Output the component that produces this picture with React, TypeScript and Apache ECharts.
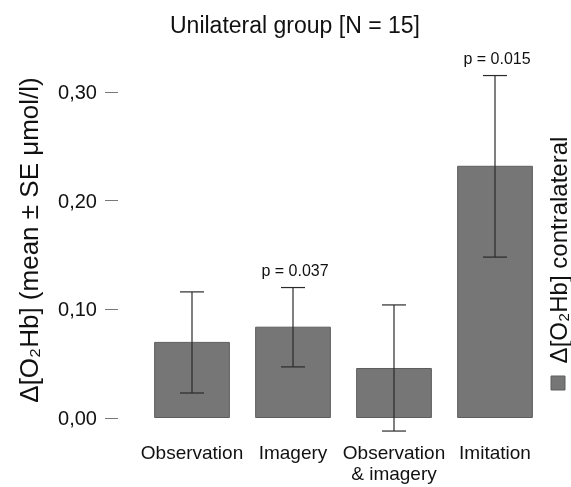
import React, { useEffect, useRef } from "react";
import * as echarts from "echarts";

const categories = ["Observation", "Imagery", "Observation\n& imagery", "Imitation"];
const means = [0.070, 0.084, 0.046, 0.232];
const seLow = [0.023, 0.047, -0.012, 0.148];
const seHigh = [0.116, 0.120, 0.104, 0.315];
const pLabels = ["", "p = 0.037", "", "p = 0.015"];
const yTicks = [0, 0.1, 0.2, 0.3];

const FONT = "'Liberation Sans', Arial, sans-serif";

export default function App() {
  const ref = useRef<HTMLDivElement>(null);
  useEffect(() => {
    if (!ref.current) return;
    const chart = echarts.init(ref.current, undefined, { renderer: "svg" });
    const errData = categories.map((_, i) => [i, seLow[i], seHigh[i], pLabels[i]]);
    chart.setOption({
      animation: false,
      textStyle: { fontFamily: FONT },
      title: {
        text: "Unilateral group [N = 15]",
        left: 165,
        top: 8,
        textStyle: { fontFamily: FONT, fontSize: 23, fontWeight: "normal", color: "#111" },
      },
      grid: { left: 141.5, right: 25.5, top: 37.5, bottom: 69, outerBoundsMode: "none" },
      xAxis: {
        type: "category",
        data: categories,
        axisLine: { show: false },
        axisTick: { show: false },
        axisLabel: { interval: 0, margin: 24, fontSize: 19, color: "#111", lineHeight: 21, fontFamily: FONT },
      },
      yAxis: {
        type: "value",
        min: 0,
        max: 0.35,
        interval: 0.1,
        offset: 23.5,
        splitLine: { show: false },
        axisLine: { show: false },
        axisTick: { show: true, length: 13, lineStyle: { color: "#777", width: 1 }, customValues: yTicks },
        axisLabel: {
          margin: 21,
          fontSize: 20,
          color: "#111",
          fontFamily: FONT,
          customValues: yTicks,
          formatter: (v: number) => v.toFixed(2).replace(".", ","),
        },
      },
      series: [
        {
          type: "bar",
          data: means,
          barWidth: "75%",
          itemStyle: { color: "#767676", borderColor: "#5e5e5e", borderWidth: 1 },
        },
        {
          type: "custom",
          data: errData,
          z: 10,
          renderItem: (params: any, api: any) => {
            const i = api.value(0);
            const lo = api.coord([i, api.value(1)]);
            const hi = api.coord([i, api.value(2)]);
            const x = lo[0];
            const hw = 12;
            const style = { stroke: "#2a2a2a", lineWidth: 1.2 };
            const children: any[] = [
              { type: "line", shape: { x1: x, y1: hi[1], x2: x, y2: lo[1] }, style },
              { type: "line", shape: { x1: x - hw, y1: hi[1], x2: x + hw, y2: hi[1] }, style },
              { type: "line", shape: { x1: x - hw, y1: lo[1], x2: x + hw, y2: lo[1] }, style },
            ];
            const p = pLabels[i];
            if (p) {
              children.push({
                type: "text",
                style: {
                  text: p,
                  x: x + 2,
                  y: hi[1] - 17,
                  align: "center",
                  verticalAlign: "middle",
                  fontSize: 16,
                  fontFamily: FONT,
                  fill: "#111",
                },
              });
            }
            return { type: "group", children };
          },
        },
      ],
      graphic: [
        {
          type: "text",
          x: 29,
          y: 240,
          rotation: Math.PI / 2,
          style: {
            text: "Δ[O₂Hb] (mean ± SE μmol/l)",
            align: "center",
            verticalAlign: "middle",
            fontSize: 26,
            fontFamily: FONT,
            fill: "#111",
          },
        },
        {
          type: "rect",
          shape: { x: 551, y: 376, width: 14, height: 14 },
          style: { fill: "#767676", stroke: "#5e5e5e", lineWidth: 1 },
        },
        {
          type: "text",
          x: 558,
          y: 250,
          rotation: Math.PI / 2,
          style: {
            text: "Δ[O₂Hb] contralateral",
            align: "center",
            verticalAlign: "middle",
            fontSize: 24,
            fontFamily: FONT,
            fill: "#111",
          },
        },
      ],
    });
    return () => chart.dispose();
  }, []);
  return <div ref={ref} style={{ position: "fixed", left: 0, top: 0, width: 571, height: 487 }} />;
}
